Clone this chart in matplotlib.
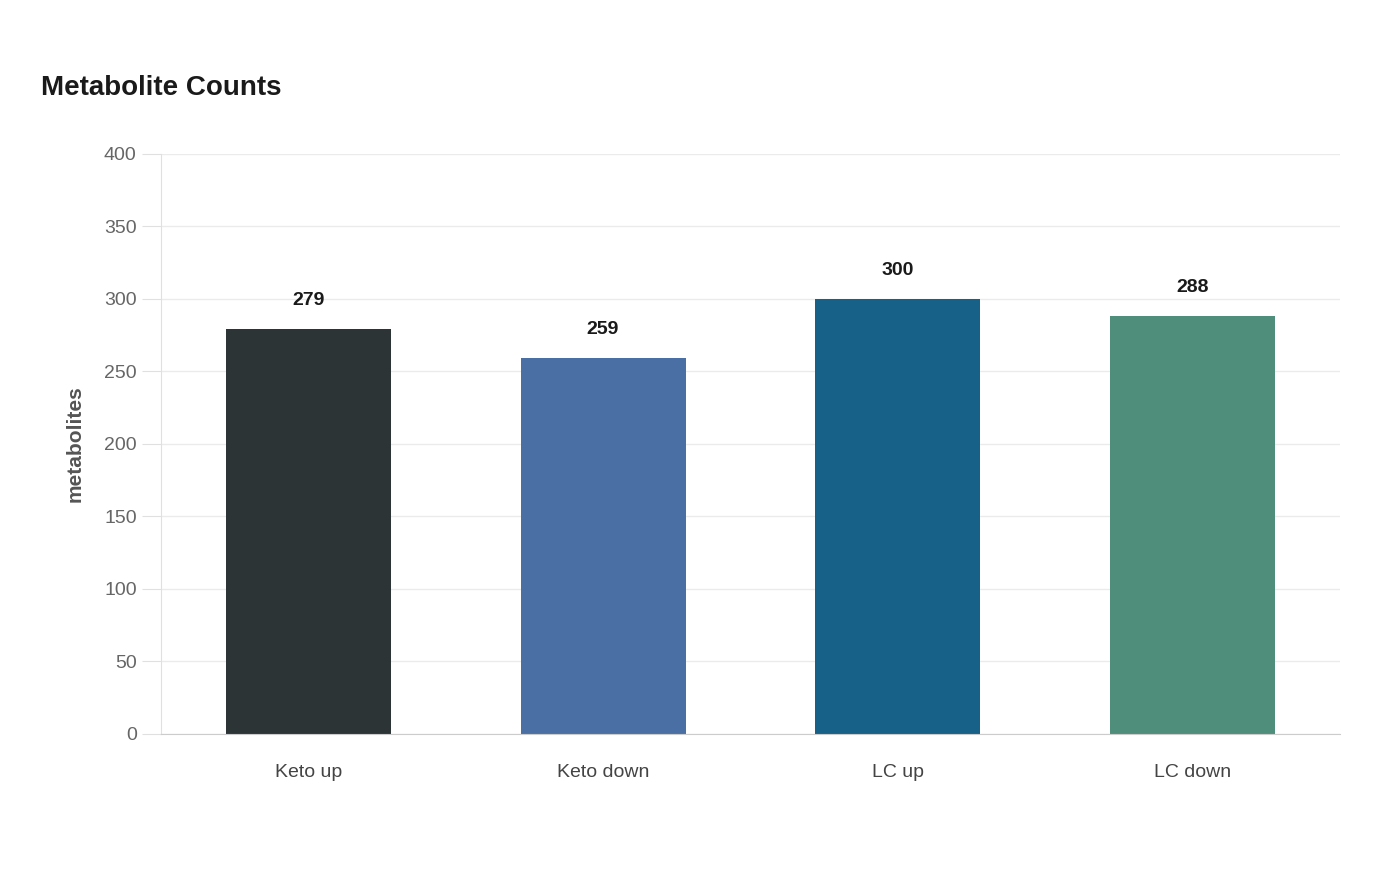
import matplotlib.pyplot as plt
from matplotlib.patches import FancyBboxPatch

plt.rcParams['font.family'] = ['Liberation Sans', 'DejaVu Sans']

categories = ["Keto up", "Keto down", "LC up", "LC down"]
counts = [279, 259, 300, 288]
colors = ["#2d3436", "#4a6fa5", "#176087", "#4e8e7a"]

fig = plt.figure(figsize=(14, 8.8), dpi=100)
ax = fig.add_axes([0.115, 0.166, 0.842, 0.659])

bars = ax.bar(categories, counts, width=0.56, color=colors)
for b, v in zip(bars, counts):
    ax.text(b.get_x() + b.get_width() / 2, v + 14, str(v), ha="center", va="bottom",
            fontsize=14, fontweight="bold", color="#1a1a1a")

ax.set_ylim(0, 400)
ax.set_xlim(-0.5, 3.5)
ax.set_yticks(range(0, 401, 50))
ax.grid(axis="y", color="#ebebeb", linewidth=1)
ax.set_axisbelow(True)
for s in ["top", "right"]:
    ax.spines[s].set_visible(False)
ax.spines["left"].set_color("#e0e0e0")
ax.spines["bottom"].set_color("#cccccc")
ax.tick_params(axis="y", length=14, color="#e0e0e0", labelsize=14, labelcolor="#666666")
ax.tick_params(axis="x", length=0, pad=22, labelsize=14, labelcolor="#444444")
ax.set_ylabel("metabolites", fontsize=15, fontweight="bold", color="#555555", labelpad=14)

fig.text(0.029, 0.892, "Metabolite Counts", fontsize=20, fontweight="bold", color="#1a1a1a")

fig.savefig("out.png", dpi=100)
